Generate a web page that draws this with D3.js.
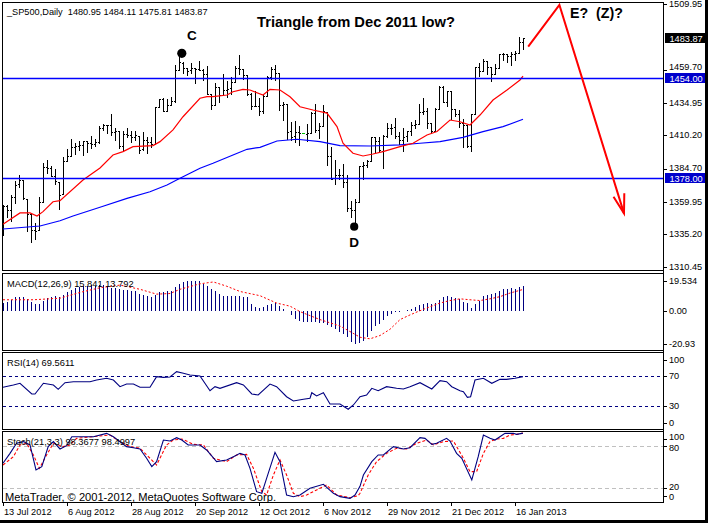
<!DOCTYPE html>
<html><head><meta charset="utf-8">
<script src="https://cdn.jsdelivr.net/npm/d3@7/dist/d3.min.js"></script>
<style>
body{margin:0;background:#fff;}
svg{display:block;font-family:"Liberation Sans",Arial,sans-serif;}
</style></head><body>
<svg id="c" width="708" height="523"></svg>
<script>
// ---------------- DATA ----------------
const headerText = "_SP500,Daily  1480.95 1484.11 1475.81 1483.87";
const dateLabels = ["13 Jul 2012","6 Aug 2012","28 Aug 2012","20 Sep 2012","12 Oct 2012","6 Nov 2012","29 Nov 2012","21 Dec 2012","16 Jan 2013"];
const dateIdx = [0,16,32,48,64,80,96,112,128];
const priceTicks = [1509.95,1459.70,1434.95,1410.20,1384.70,1359.95,1335.20,1310.45];

const open = [1334.81,1356.50,1353.68,1363.58,1373.01,1376.51,1362.34,1350.52,1338.35,1338.17,1360.05,1385.94,1385.27,
1379.32,1375.13,1365.45,1391.04,1394.46,1401.23,1402.26,1402.58,1405.87,1404.36,1403.89,1405.57,1415.84,1417.85,1418.13,1413.09,1413.49,1401.99,1411.13,1410.44,1409.32,1410.08,1400.07,
1406.54,1404.94,1403.74,1432.12,1437.92,1429.13,1433.56,1436.56,1460.07,1465.42,1461.19,1459.50,1461.05,1460.34,1459.76,1456.94,1441.60,1433.36,1447.13,
1440.90,1444.99,1446.05,1451.08,1461.40,1460.93,1455.90,1441.48,1432.82,1432.84,1428.75,1440.31,1454.22,1460.94,1457.34,1433.21,1433.74,1413.20,1409.74,1412.97,1411.94,
1410.99,1412.20,1427.59,1414.02,1417.26,1428.27,1394.53,1377.55,1379.86,1380.03,1374.64,1355.41,1353.36,1359.88,1386.82,1387.79,1391.03,1409.15,1406.29,1398.77,1409.96,1415.95,
1416.34,1409.46,1407.05,1409.43,1413.95,1418.07,1418.55,1427.84,1428.48,1419.45,1413.54,1430.47,1446.79,1435.81,1443.67,1430.15,1426.66,1419.83,1418.10,1402.43,
1426.19,1462.42,1459.37,1466.47,1461.89,1457.15,1461.02,1472.12,1472.05,1470.67,1472.33,1472.63,1480.95];
const high = [1357.70,1357.26,1365.36,1375.26,1380.39,1376.51,1362.34,1351.53,1343.98,1363.13,1389.19,1391.74,1387.16,
1385.03,1375.13,1394.16,1399.63,1407.14,1404.14,1405.95,1405.98,1405.87,1410.03,1407.73,1417.44,1418.71,1418.13,1426.68,1416.12,1413.49,1413.46,1416.17,1413.63,1413.95,1410.08,1413.09,
1409.31,1408.81,1432.12,1437.92,1438.74,1437.76,1439.15,1463.76,1474.51,1465.63,1461.47,1465.15,1461.23,1467.07,1460.72,1463.24,1441.60,1450.20,1447.13,
1457.14,1451.52,1454.30,1463.14,1470.96,1460.93,1455.90,1442.52,1443.90,1438.43,1441.31,1455.51,1462.20,1464.02,1457.34,1435.46,1433.74,1420.04,1421.12,1417.09,1411.94,
1418.76,1428.35,1434.27,1419.90,1433.38,1428.27,1401.23,1391.39,1384.87,1388.81,1380.13,1360.62,1362.03,1386.89,1389.77,1391.25,1409.16,1409.15,1409.01,1410.31,1419.70,1418.86,
1423.73,1413.14,1415.56,1413.95,1420.34,1421.64,1434.27,1438.59,1431.36,1419.45,1430.67,1448.00,1447.75,1443.70,1443.67,1430.15,1429.42,1422.80,1418.10,1426.74,
1462.43,1465.47,1467.94,1466.47,1461.89,1464.73,1472.30,1472.75,1472.05,1473.31,1473.96,1485.16,1484.11];
const low = [1334.81,1348.51,1345.07,1358.96,1371.21,1362.19,1337.56,1329.24,1331.50,1338.17,1360.05,1381.37,1379.17,
1373.35,1354.65,1365.45,1391.04,1394.46,1396.13,1398.80,1395.62,1397.32,1400.60,1401.83,1404.15,1414.67,1412.12,1410.86,1406.78,1400.50,1398.04,1409.11,1405.59,1406.57,1397.01,1398.96,
1396.56,1401.25,1403.74,1431.45,1428.98,1429.13,1432.99,1435.34,1460.07,1457.55,1456.13,1457.88,1449.98,1459.51,1452.06,1441.59,1430.53,1433.36,1435.60,
1440.90,1439.01,1441.99,1451.08,1456.89,1453.10,1441.18,1430.64,1432.82,1425.53,1427.24,1440.31,1453.35,1452.63,1429.85,1422.06,1407.56,1407.10,1405.14,1403.28,1411.94,
1405.95,1412.20,1412.91,1408.13,1417.26,1388.14,1377.51,1373.03,1377.19,1370.78,1352.50,1348.05,1343.35,1359.88,1377.04,1386.39,1391.03,1397.68,1398.03,1385.43,1409.04,1411.63,
1408.46,1403.65,1398.23,1405.93,1410.90,1415.64,1418.55,1426.76,1416.00,1411.88,1413.54,1430.47,1435.80,1432.82,1422.58,1424.66,1416.43,1401.80,1401.58,1398.11,
1426.19,1455.53,1458.99,1456.62,1451.64,1457.15,1461.02,1467.58,1465.69,1463.76,1467.60,1472.63,1475.81];
const close = [1356.78,1353.64,1363.67,1372.78,1376.51,1362.66,1350.52,1338.31,1337.89,1360.02,1385.97,1385.30,1379.32,
1375.32,1365.00,1390.99,1394.23,1401.35,1402.22,1402.80,1405.87,1404.11,1403.93,1405.53,1415.51,1418.16,1418.13,1413.17,1413.49,1402.08,1411.13,1410.44,1409.30,1410.49,1399.48,1406.58,
1404.94,1403.44,1432.12,1437.92,1429.08,1433.56,1436.56,1459.99,1465.77,1461.19,1459.32,1461.05,1460.26,1460.15,1456.89,1441.59,1433.32,1447.15,1440.67,
1444.49,1445.75,1450.99,1461.40,1460.93,1455.88,1441.48,1432.56,1432.84,1428.59,1440.13,1454.92,1460.91,1457.34,1433.19,1433.82,1413.11,1408.75,1412.97,1411.94,1411.94,
1412.16,1427.59,1414.20,1417.26,1428.39,1394.53,1377.51,1379.85,1380.03,1374.53,1355.49,1353.33,1359.88,1386.89,1387.81,1391.03,1409.15,1406.29,1398.94,1409.93,1415.95,1416.18,
1409.46,1407.05,1409.28,1413.94,1418.07,1418.55,1427.84,1428.48,1419.45,1413.58,1430.36,1446.79,1435.81,1443.69,1430.15,1426.66,1419.83,1418.10,1402.43,1426.19,
1462.42,1459.37,1466.47,1461.89,1457.15,1461.02,1472.12,1472.05,1470.68,1472.34,1472.63,1480.94,1483.87];

// moving averages (vertices: bar index, price)
const maRedIdx = [0,4.25,6.75,8.5,10,12.5,14.25,20,24.25,27.5,30,32.5,37.5,39.25,42.5,45,49.25,51,52.5,56,57.5,60,61.75,65,66.75,69.25,71.75,74.25,77.5,81,83.5,85,87.5,90,92.5,95,99.25,102.5,106,108.5,111.75,114.25,116.75,119.25,122.5,126,129.25,130];
const maRedVal = [1342.8,1351.4,1351.4,1349.1,1352.4,1359.9,1360.7,1376.4,1385.5,1395.4,1397.9,1401.7,1402.5,1405.5,1414.4,1424.4,1438.4,1439.6,1439.6,1440.9,1443.4,1445.2,1444.7,1440.9,1445.2,1444.7,1439.6,1432.0,1429.5,1427.2,1416.9,1404.3,1396.7,1394.6,1396.1,1397.9,1401.7,1404.3,1410.6,1413.2,1421.9,1420.6,1418.1,1425.7,1437.1,1444.7,1452.3,1455.3];
const maBlueIdx = [0,9.25,14.25,17.5,24.25,31,36.75,41,44.25,49.25,52.5,57.5,61,64.25,68.5,73.5,79.25,84.25,91.75,99.25,104.25,109.25,115,120,125,130];
const maBlueVal = [1339.2,1341.5,1345.5,1349.1,1355.7,1362.5,1367.5,1372.6,1377.7,1385.3,1389.1,1395.4,1399.7,1401.2,1406.0,1407.3,1405.5,1402.5,1402.2,1403.0,1404.3,1405.5,1408.8,1413.1,1416.9,1422.5];
const hLevels = [1454.00, 1378.00];

// MACD(12,26,9)
const macdLabel = "MACD(12,26,9) 15.841 13.792";
const macdTicks = [19.534, 0, -20.93];
const macdTickText = ["19.534","0.00","-20.93"];
const macdMain = [5.1,5.7,7.1,8.8,9.2,9.2,7.8,5.7,4.3,4.7,
6.7,8.4,9.2,9.8,9.2,10.4,11.9,13.3,14.5,15.3,
15.9,15.9,16.4,16.1,16.6,16.6,15.9,14.9,14.5,13.9,
13.5,13.3,12.9,12.5,11.2,10.4,9.8,8.8,10.4,11.9,
11.9,12.9,12.5,15.3,17.6,18.6,19.5,19.534,19.4,19.0,
17.4,15.9,13.9,12.5,11.2,9.8,9.8,9.8,9.8,9.8,
9.2,8.8,4.7,2.6,2.2,2.6,3.7,4.7,5.1,3.1,
1.6,0.2,-2.5,-5.1,-6.5,-7.2,-7.2,-7.2,-7.2,-7.6,
-7.6,-8.7,-10.1,-11.3,-13.4,-14.8,-16.8,-19.9,-20.93,-20.2,
-19.4,-16.8,-12.7,-9.6,-8.0,-5.5,-3.5,-2.0,-0.8,-0.4,
-0.2,0.6,1.2,2.7,4.1,4.7,5.1,4.7,5.3,7.2,
8.8,9.4,9.2,8.4,7.8,5.7,5.1,2.2,4.7,6.7,
9.5,10.3,11.2,11.5,12.7,14.0,14.4,14.5,14.4,15.3,
15.841];
const macdSigIdx = [0,7.6,14.25,19.25,24.25,29.25,34.25,38.4,41.75,44.25,49.25,52.6,55.9,59.25,64.25,68.4,71.75,74.25,79.25,84.25,87,89.25,91.75,94.25,96.75,99.25,101.75,104.25,106.75,109.25,111.75,114.25,116.75,119.25,121.75,124.25,126.75,130];
const macdSigVal = [7.2,7.2,8.2,11.9,14.9,16.6,13.9,10.8,11.2,13.9,17.4,18.6,15.9,12.5,9.8,5.1,3.1,-0.4,-5.5,-9.6,-13.5,-16.8,-17.8,-15.7,-11.7,-5.5,-2.5,0.2,2.7,5.1,6.7,7.8,7.2,6.7,7.8,9.2,11.5,13.792];

// RSI(14)
const rsiLabel = "RSI(14) 69.5611";
const rsiTicks = [100,70,30,0];
const rsiLevels = [70,30];
const rsiIdx = [0,2.6,4.25,7.2,8,10.1,12.6,13.8,15.5,17.6,21.75,23.4,25.9,27.6,29.25,30.9,32.6,34.25,36.75,38.4,40.1,41.75,43.4,45.1,46.75,49.25,51.75,53,54.25,58.4,60.1,62.2,63.8,66.75,68.4,70.9,72.6,75.1,76.75,77.2,78.4,80.1,81.75,84.25,86.3,87.6,89.25,90.9,92.2,93.8,95.9,98.4,100.1,101.75,104.25,107.2,109.25,110.9,112.2,114.25,115.1,116.1,116.9,118,120.1,122.2,124.25,125.9,128,130];
const rsiVal = [55.2,58.3,60.6,46.2,46.2,60.6,58.3,52.5,61.4,62.7,62.7,65,67.3,65,56,59.6,59.6,55.2,55.2,69.5,68.6,69,76.2,74,71.7,70.4,50.6,56,53.8,61.4,58.3,46.2,44.8,59.6,56,42.5,36.7,39,40.4,47.9,43.5,47.9,32.7,32.7,25.6,31.4,42.5,44.8,53.8,50.6,56,53.8,52.9,56,61.4,52.9,64.1,62.7,56,50.6,49.3,41.7,42.5,65,67.3,60.6,65.9,65.9,67.3,69.56];

// Stochastic(21,3,3)
const stochLabel = "Stoch(21,3,3) 98.3677 98.4997";
const stochTicks = [100,80,20,0];
const stochLevels = [80,20];
const stochKIdx = [0,1.75,3.4,5.1,6.75,8.25,9.7,11.3,12.6,14.25,15.9,17.2,19.25,22.6,25.9,27.6,30.9,32.6,34.25,35.9,37.2,38.4,40.1,41.75,43.4,44.7,46.3,49.25,50.9,53.4,55.9,57.6,59.25,60.5,61.75,63.4,64.7,65.9,68,69.25,70.9,72.6,74.25,76.75,80.1,82.6,84.25,86.75,88,89.25,90.1,92.2,93.8,95.1,97.6,100.1,101.75,104.25,105.5,107.2,108.4,110.9,111.75,113.4,114.7,117.2,118.8,120.1,121.75,123,125.5,127.6,128.4,129.7,130];
const stochKVal = [55.1,69.4,83.9,86.3,81.5,45.5,50.3,79.1,86.3,75.7,80.5,93.4,93.4,93.4,98.2,93.4,79.1,77.6,75.7,62.3,50.3,57.5,88.6,87.2,92,88.6,81.5,81.5,74.3,57.5,59.9,64.7,69.4,67.1,47.9,14.3,11.9,33.5,70.9,57.5,9.5,7.1,9.5,19.1,24.9,11.9,7.1,4.7,9.5,22,38.3,57.5,67.1,67.1,79.1,75.7,77.6,92,91,82.4,83.9,91,87.2,69.4,62.3,31.1,64.7,95.8,91,88.6,98.2,98.2,96.7,98.2,98.37];
const stochDIdx = [0,2.6,4.25,5.9,7.6,9.1,10.9,12.6,15.1,16.75,18.4,24.25,26.75,29.25,31.75,34.25,36.75,38.4,40.9,42.6,44.7,47.6,50.1,52.6,55.9,58.4,60.9,62.6,64.7,65.9,67.6,69.25,70.9,72.6,74.25,75.9,78.4,80.9,83.4,86.75,88.8,89.25,91.3,93.4,95.9,98.4,100.9,103.4,105.9,107.6,110.1,112.6,115.1,116.75,118.4,120.1,121.75,123.4,125.1,126.75,128.4,130];
const stochDVal = [52.7,64.7,81.5,83.9,67.1,47.9,67.1,83.9,79.1,81.5,91,94.4,95.8,86.3,79.1,76.7,62.3,52.7,81.5,88.6,90.1,82.4,81.5,62.3,57.5,67.1,68,47.9,14.3,9.5,38.3,59.9,38.3,11.9,7.1,9.5,16.7,23.9,9.5,5.6,8.5,11.9,38.3,57.5,69.4,76.7,75.7,83.9,88.6,81.5,86.3,87.2,62.3,43.1,43.1,69.4,86.3,90.1,91,95.8,96.7,98.5];

// annotations
const titleText = "Triangle from Dec 2011 low?";
const waveText = "E?  (Z)?";
const pointLabels = ["C","D"];
const pointIdx = [44.7, 87.8];
const pointPrice = [1472.5, 1341.0];
const pointLabelPrice = [1482.6, 1325.8];
const waveIdx = [131.3, 139.1, 155.25];
const wavePrice = [1477.6, 1509.2, 1351.1];
const copyright = "MetaTrader, \u00A9 2001-2012, MetaQuotes Software Corp.";

// ---------------- DRAW ----------------
const svg = d3.select('#c');
svg.append('rect').attr('width',708).attr('height',523).attr('fill','#fff');
const Lx = 2.5, Rx = 663.5;
const P = {main:[2.5,270.5], macd:[273.5,350.5], rsi:[352.5,429.5], stoch:[431.5,502.5]};

const x = d3.scaleLinear().domain([0,130]).range([3,523]);
const y = d3.scaleLinear().domain([1310.45,1509.95]).range([266.9,4]);
const yM = d3.scaleLinear().domain([-20.93,19.534]).range([343.7,280.5]);
const yR = d3.scaleLinear().domain([0,100]).range([428.3,354]);
const yS = d3.scaleLinear().domain([0,100]).range([501.6,432.1]);

const defs = svg.append('defs');
Object.entries(P).forEach(([k,[t,b]])=>{
  defs.append('clipPath').attr('id','clip-'+k).append('rect')
    .attr('x',Lx).attr('y',t).attr('width',Rx-Lx).attr('height',b-t);
});
const g = k => svg.append('g').attr('clip-path','url(#clip-'+k+')');

// ---- main panel ----
const gm = g('main');
const idxs = d3.range(close.length);
const bars = gm.append('g').attr('shape-rendering','crispEdges');
idxs.forEach(i=>{
  const xi = Math.round(x(i));
  const yh = Math.round(y(high[i])), yl = Math.round(y(low[i]));
  if (high[i] === low[i]) {
    bars.append('rect').attr('x',xi-1).attr('y',yh).attr('width',3).attr('height',1).attr('fill','#00c000');
    return;
  }
  bars.append('rect').attr('x',xi).attr('y',yh).attr('width',1).attr('height',Math.max(1,yl-yh+1)).attr('fill','#000');
  bars.append('rect').attr('x',xi-1).attr('y',Math.round(y(open[i]))).attr('width',1).attr('height',1).attr('fill','#000');
  bars.append('rect').attr('x',xi+1).attr('y',Math.round(y(close[i]))).attr('width',1).attr('height',1).attr('fill','#000');
});
const lineP = (xs,ys,sy)=> d3.line().x(d=>x(xs[d])).y(d=>sy(ys[d]))(d3.range(xs.length));
gm.append('path').attr('d',lineP(maBlueIdx,maBlueVal,y)).attr('fill','none').attr('stroke','#0000ff').attr('stroke-width',1.2);
gm.append('path').attr('d',lineP(maRedIdx,maRedVal,y)).attr('fill','none').attr('stroke','#ff0000').attr('stroke-width',1.2);
hLevels.forEach(v=>{
  gm.append('line').attr('x1',Lx).attr('x2',Rx).attr('y1',Math.round(y(v))+0.5).attr('y2',Math.round(y(v))+0.5)
    .attr('stroke','#0000ff').attr('stroke-width',1.3);
});
// wave arrow
gm.append('path').attr('d',lineP(waveIdx,wavePrice,y)).attr('fill','none').attr('stroke','#ff0000').attr('stroke-width',2);
const tipX = x(waveIdx[2]), tipY = y(wavePrice[2]);
gm.append('path').attr('d',`M${tipX-10.5},${tipY-16.5}L${tipX},${tipY}L${tipX+0.3},${tipY-20}`)
  .attr('fill','none').attr('stroke','#ff0000').attr('stroke-width',2);
// C / D points
pointLabels.forEach((lab,k)=>{
  gm.append('circle').attr('cx',x(pointIdx[k])).attr('cy',y(pointPrice[k])).attr('r',k===0?4.6:4.1).attr('fill','#000');
  gm.append('text').attr('x',x(pointIdx[k]) + (k===0?10:0)).attr('y',y(pointLabelPrice[k]))
    .attr('text-anchor','middle').attr('font-size',13.5).attr('font-weight','bold').attr('fill','#000').text(lab);
});
gm.append('text').attr('x',257).attr('y',27.3).attr('font-size',15).attr('font-weight','bold')
  .attr('textLength',198).attr('lengthAdjust','spacingAndGlyphs').text(titleText);
gm.append('text').attr('x',570).attr('y',18.3).attr('font-size',15.5).attr('font-weight','bold')
  .attr('xml:space','preserve').style('white-space','pre').attr('textLength',53).attr('lengthAdjust','spacingAndGlyphs').text(waveText);
gm.append('text').attr('x',7).attr('y',14.5).attr('font-size',9.2).attr('xml:space','preserve').style('white-space','pre').text(headerText);

// ---- MACD ----
const gmc = g('macd');
gmc.append('g').attr('shape-rendering','crispEdges').selectAll('rect').data(macdMain).join('rect')
  .attr('x',(d,i)=>Math.round(x(i))).attr('width',1)
  .attr('y',d=>Math.min(yM(d),yM(0))).attr('height',d=>Math.abs(yM(d)-yM(0)))
  .attr('fill','#000080');
gmc.append('path').attr('d',lineP(macdSigIdx,macdSigVal,yM)).attr('fill','none').attr('stroke','#ff0000')
  .attr('stroke-width',1).attr('stroke-dasharray','2,2');
gmc.append('text').attr('x',7).attr('y',287).attr('font-size',9.3).text(macdLabel);

// ---- RSI ----
const gr = g('rsi');
rsiLevels.forEach(v=>{
  gr.append('line').attr('x1',Lx).attr('x2',Rx).attr('y1',Math.round(yR(v))+0.5).attr('y2',Math.round(yR(v))+0.5)
   .attr('stroke','#000080').attr('stroke-dasharray','3,3').attr('shape-rendering','crispEdges');
});
gr.append('path').attr('d',lineP(rsiIdx,rsiVal,yR)).attr('fill','none').attr('stroke','#000080').attr('stroke-width',1.1);
gr.append('text').attr('x',7).attr('y',366).attr('font-size',9.3).text(rsiLabel);

// ---- Stoch ----
const gs = g('stoch');
stochLevels.forEach(v=>{
  gs.append('line').attr('x1',Lx).attr('x2',Rx).attr('y1',Math.round(yS(v))+0.5).attr('y2',Math.round(yS(v))+0.5)
   .attr('stroke','#c0c0c0').attr('stroke-dasharray','4,3').attr('shape-rendering','crispEdges');
});
gs.append('path').attr('d',lineP(stochDIdx,stochDVal,yS)).attr('fill','none').attr('stroke','#ff0000').attr('stroke-width',1.1).attr('stroke-dasharray','3,2');
gs.append('path').attr('d',lineP(stochKIdx,stochKVal,yS)).attr('fill','none').attr('stroke','#000080').attr('stroke-width',1.1);
gs.append('text').attr('x',7).attr('y',444.5).attr('font-size',9.3).text(stochLabel);
gs.append('text').attr('x',5).attr('y',500.5).attr('font-size',10.2).attr('textLength',271).attr('lengthAdjust','spacingAndGlyphs').text(copyright);

// ---- frames ----
Object.values(P).forEach(([t,b])=>{
  svg.append('rect').attr('x',Lx).attr('y',t).attr('width',Rx-Lx).attr('height',b-t)
    .attr('fill','none').attr('stroke','#000').attr('stroke-width',1).attr('shape-rendering','crispEdges');
});
svg.append('line').attr('x1',Rx).attr('x2',Rx).attr('y1',2).attr('y2',502.5).attr('stroke','#000').attr('shape-rendering','crispEdges');

// ---- right axes ----
const axG = svg.append('g').attr('font-size',9.2).attr('fill','#000');
function rightTicks(vals, texts, sc, top, bot, clampIn, nudge){
  vals.forEach((v,k)=>{
    let yy = sc(v);
    if (clampIn) yy = Math.max(top+7, Math.min(bot-7, yy));
    yy = Math.round(yy);
    axG.append('line').attr('x1',Rx).attr('x2',Rx+3).attr('y1',yy+0.5).attr('y2',yy+0.5).attr('stroke','#000').attr('shape-rendering','crispEdges');
    axG.append('text').attr('x',Rx+5.5).attr('y',yy + (nudge ? nudge[k] : 0)).attr('dy','0.35em').text(texts[k]);
  });
}
rightTicks(priceTicks, priceTicks.map(d3.format('.2f')), y, 0, 999, false, [0,-3,0,0,-1,0,0,0]);
rightTicks(macdTicks, macdTickText, yM, P.macd[0], P.macd[1], true);
rightTicks(rsiTicks, rsiTicks.map(String), yR, P.rsi[0], P.rsi[1], true);
rightTicks(stochTicks, stochTicks.map(String), yS, P.stoch[0], P.stoch[1], true, [-2,1.5,-1.5,1]);

// price boxes
const boxes = [[close[close.length-1],'#000'],[hLevels[0],'#0000cc'],[hLevels[1],'#0000cc']];
boxes.forEach(([v,c])=>{
  const yy = Math.round(y(v));
  svg.append('rect').attr('x',665).attr('y',yy-5).attr('width',40).attr('height',10).attr('fill',c);
  svg.append('text').attr('x',669.5).attr('y',yy+0.5).attr('dy','0.35em').attr('font-size',9.2).attr('fill','#fff').text(d3.format('.2f')(v));
});

// ---- date axis ----
dateIdx.forEach((d,k)=>{
  const xi = Math.round(x(d))+0.5;
  svg.append('line').attr('x1',xi).attr('x2',xi).attr('y1',502.5).attr('y2',506).attr('stroke','#000').attr('shape-rendering','crispEdges');
  svg.append('text').attr('x',xi+0.5).attr('y',515).attr('font-size',9.2).text(dateLabels[k]);
});

// window shadow strips
svg.append('rect').attr('x',705).attr('y',0).attr('width',3).attr('height',523).attr('fill','#000');
svg.append('rect').attr('x',0).attr('y',520).attr('width',708).attr('height',3).attr('fill','#000');
</script>
</body></html>
